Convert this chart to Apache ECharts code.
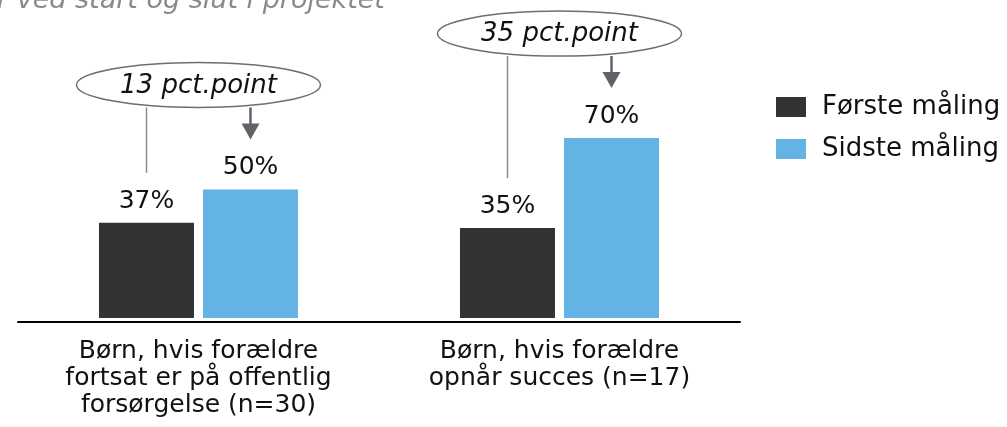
<!DOCTYPE html>
<html>
<head>
<meta charset="utf-8">
<script src="https://cdn.jsdelivr.net/npm/echarts@6/dist/echarts.min.js"></script>
<style>
  html, body { margin: 0; padding: 0; background: #fff; }
  #chart { width: 1007px; height: 427px; }
</style>
</head>
<body>
<div id="chart"></div>
<script>
// Groups of children, measured at project start and end
const categories = [
  'Børn, hvis forældre\nfortsat er på offentlig\nforsørgelse (n=30)',
  'Børn, hvis forældre\nopnår succes (n=17)'
];
const seriesNames = ['Første måling', 'Sidste måling'];
const firstValues = [37, 35];
const lastValues = [50, 70];
const subtitleText = 'r ved start og slut i projektet';

const FONT = '"DejaVu Sans", Verdana, sans-serif';
const DARK = '#333333';
const BLUE = '#63b4e4';
const BAR_W = 95;
const BAR_GAP_PX = 9;

const chart = echarts.init(document.getElementById('chart'), null, { renderer: 'canvas' });

// Annotation per group: ellipse with the change in points, a guide line to the
// first bar and an arrow pointing down to the second bar.
function renderChange(params, api) {
  const idx = api.value(0);
  const first = api.value(1);
  const last = api.value(2);
  const pFirst = api.coord([idx, first]);
  const pLast = api.coord([idx, last]);
  const half = (BAR_W + BAR_GAP_PX) / 2;
  const cx = pFirst[0];
  const xFirst = cx - half;
  const xLast = cx + half;
  const ellBottom = pLast[1] - 82;
  const ry = 22.5;
  const cy = ellBottom - ry;
  const tipY = pLast[1] - 50;
  const guideEnd = pFirst[1] - 50;
  const headH = 16, headW = 9;
  return {
    type: 'group',
    children: [
      {
        type: 'line',
        shape: { x1: xFirst, y1: ellBottom, x2: xFirst, y2: guideEnd },
        style: { stroke: '#8c8c8c', lineWidth: 1.5 }
      },
      {
        type: 'line',
        shape: { x1: xLast, y1: ellBottom, x2: xLast, y2: tipY - headH + 1 },
        style: { stroke: '#5f6368', lineWidth: 2.5 }
      },
      {
        type: 'polygon',
        shape: { points: [[xLast - headW, tipY - headH], [xLast + headW, tipY - headH], [xLast, tipY]] },
        style: { fill: '#5f6368' }
      },
      {
        type: 'ellipse',
        shape: { cx: cx, cy: cy, rx: 122, ry: ry },
        style: { fill: '#ffffff', stroke: '#6e6e6e', lineWidth: 1.5 }
      },
      {
        type: 'text',
        x: cx,
        y: cy + 1,
        style: {
          text: (last - first) + ' pct.point',
          font: 'italic 26px ' + FONT,
          fill: '#111111',
          align: 'center',
          verticalAlign: 'middle'
        }
      }
    ]
  };
}

const valueLabel = {
  show: true,
  position: 'top',
  distance: 9,
  formatter: '{c}%',
  fontFamily: FONT,
  fontSize: 25,
  lineHeight: 25,
  color: '#111111'
};

const option = {
  backgroundColor: '#ffffff',
  animation: false,
  textStyle: { fontFamily: FONT },
  graphic: [
    {
      type: 'text',
      left: -3,
      top: -13,
      style: {
        text: subtitleText,
        font: 'italic 27px ' + FONT,
        fill: '#8a8a8a'
      }
    }
  ],
  legend: {
    data: seriesNames,
    orient: 'vertical',
    left: 776,
    top: 94,
    padding: 0,
    itemWidth: 30,
    itemHeight: 20,
    itemGap: 16,
    icon: 'rect',
    textStyle: {
      fontFamily: FONT,
      fontSize: 26,
      lineHeight: 24,
      color: '#111111',
      padding: [0, 0, 0, 11]
    }
  },
  grid: { left: 18, right: 267, top: 61, bottom: 105, containLabel: false },
  xAxis: {
    type: 'category',
    data: categories,
    axisLine: { show: true, onZero: false, lineStyle: { color: '#000000', width: 2 } },
    axisTick: { show: false },
    axisLabel: {
      interval: 0,
      margin: 16,
      fontFamily: FONT,
      fontSize: 25,
      lineHeight: 27,
      color: '#111111'
    }
  },
  yAxis: {
    type: 'value',
    min: -1.6,
    max: 100,
    show: false,
    splitLine: { show: false }
  },
  series: [
    {
      name: seriesNames[0],
      type: 'bar',
      data: firstValues,
      barWidth: BAR_W,
      barGap: (BAR_GAP_PX / BAR_W * 100).toFixed(1) + '%',
      itemStyle: { color: DARK },
      label: valueLabel
    },
    {
      name: seriesNames[1],
      type: 'bar',
      data: lastValues,
      barWidth: BAR_W,
      itemStyle: { color: BLUE },
      label: valueLabel
    },
    {
      name: 'change',
      type: 'custom',
      clip: false,
      silent: true,
      z: 5,
      renderItem: renderChange,
      data: categories.map((c, i) => [i, firstValues[i], lastValues[i]])
    }
  ]
};

chart.setOption(option);
</script>
</body>
</html>
